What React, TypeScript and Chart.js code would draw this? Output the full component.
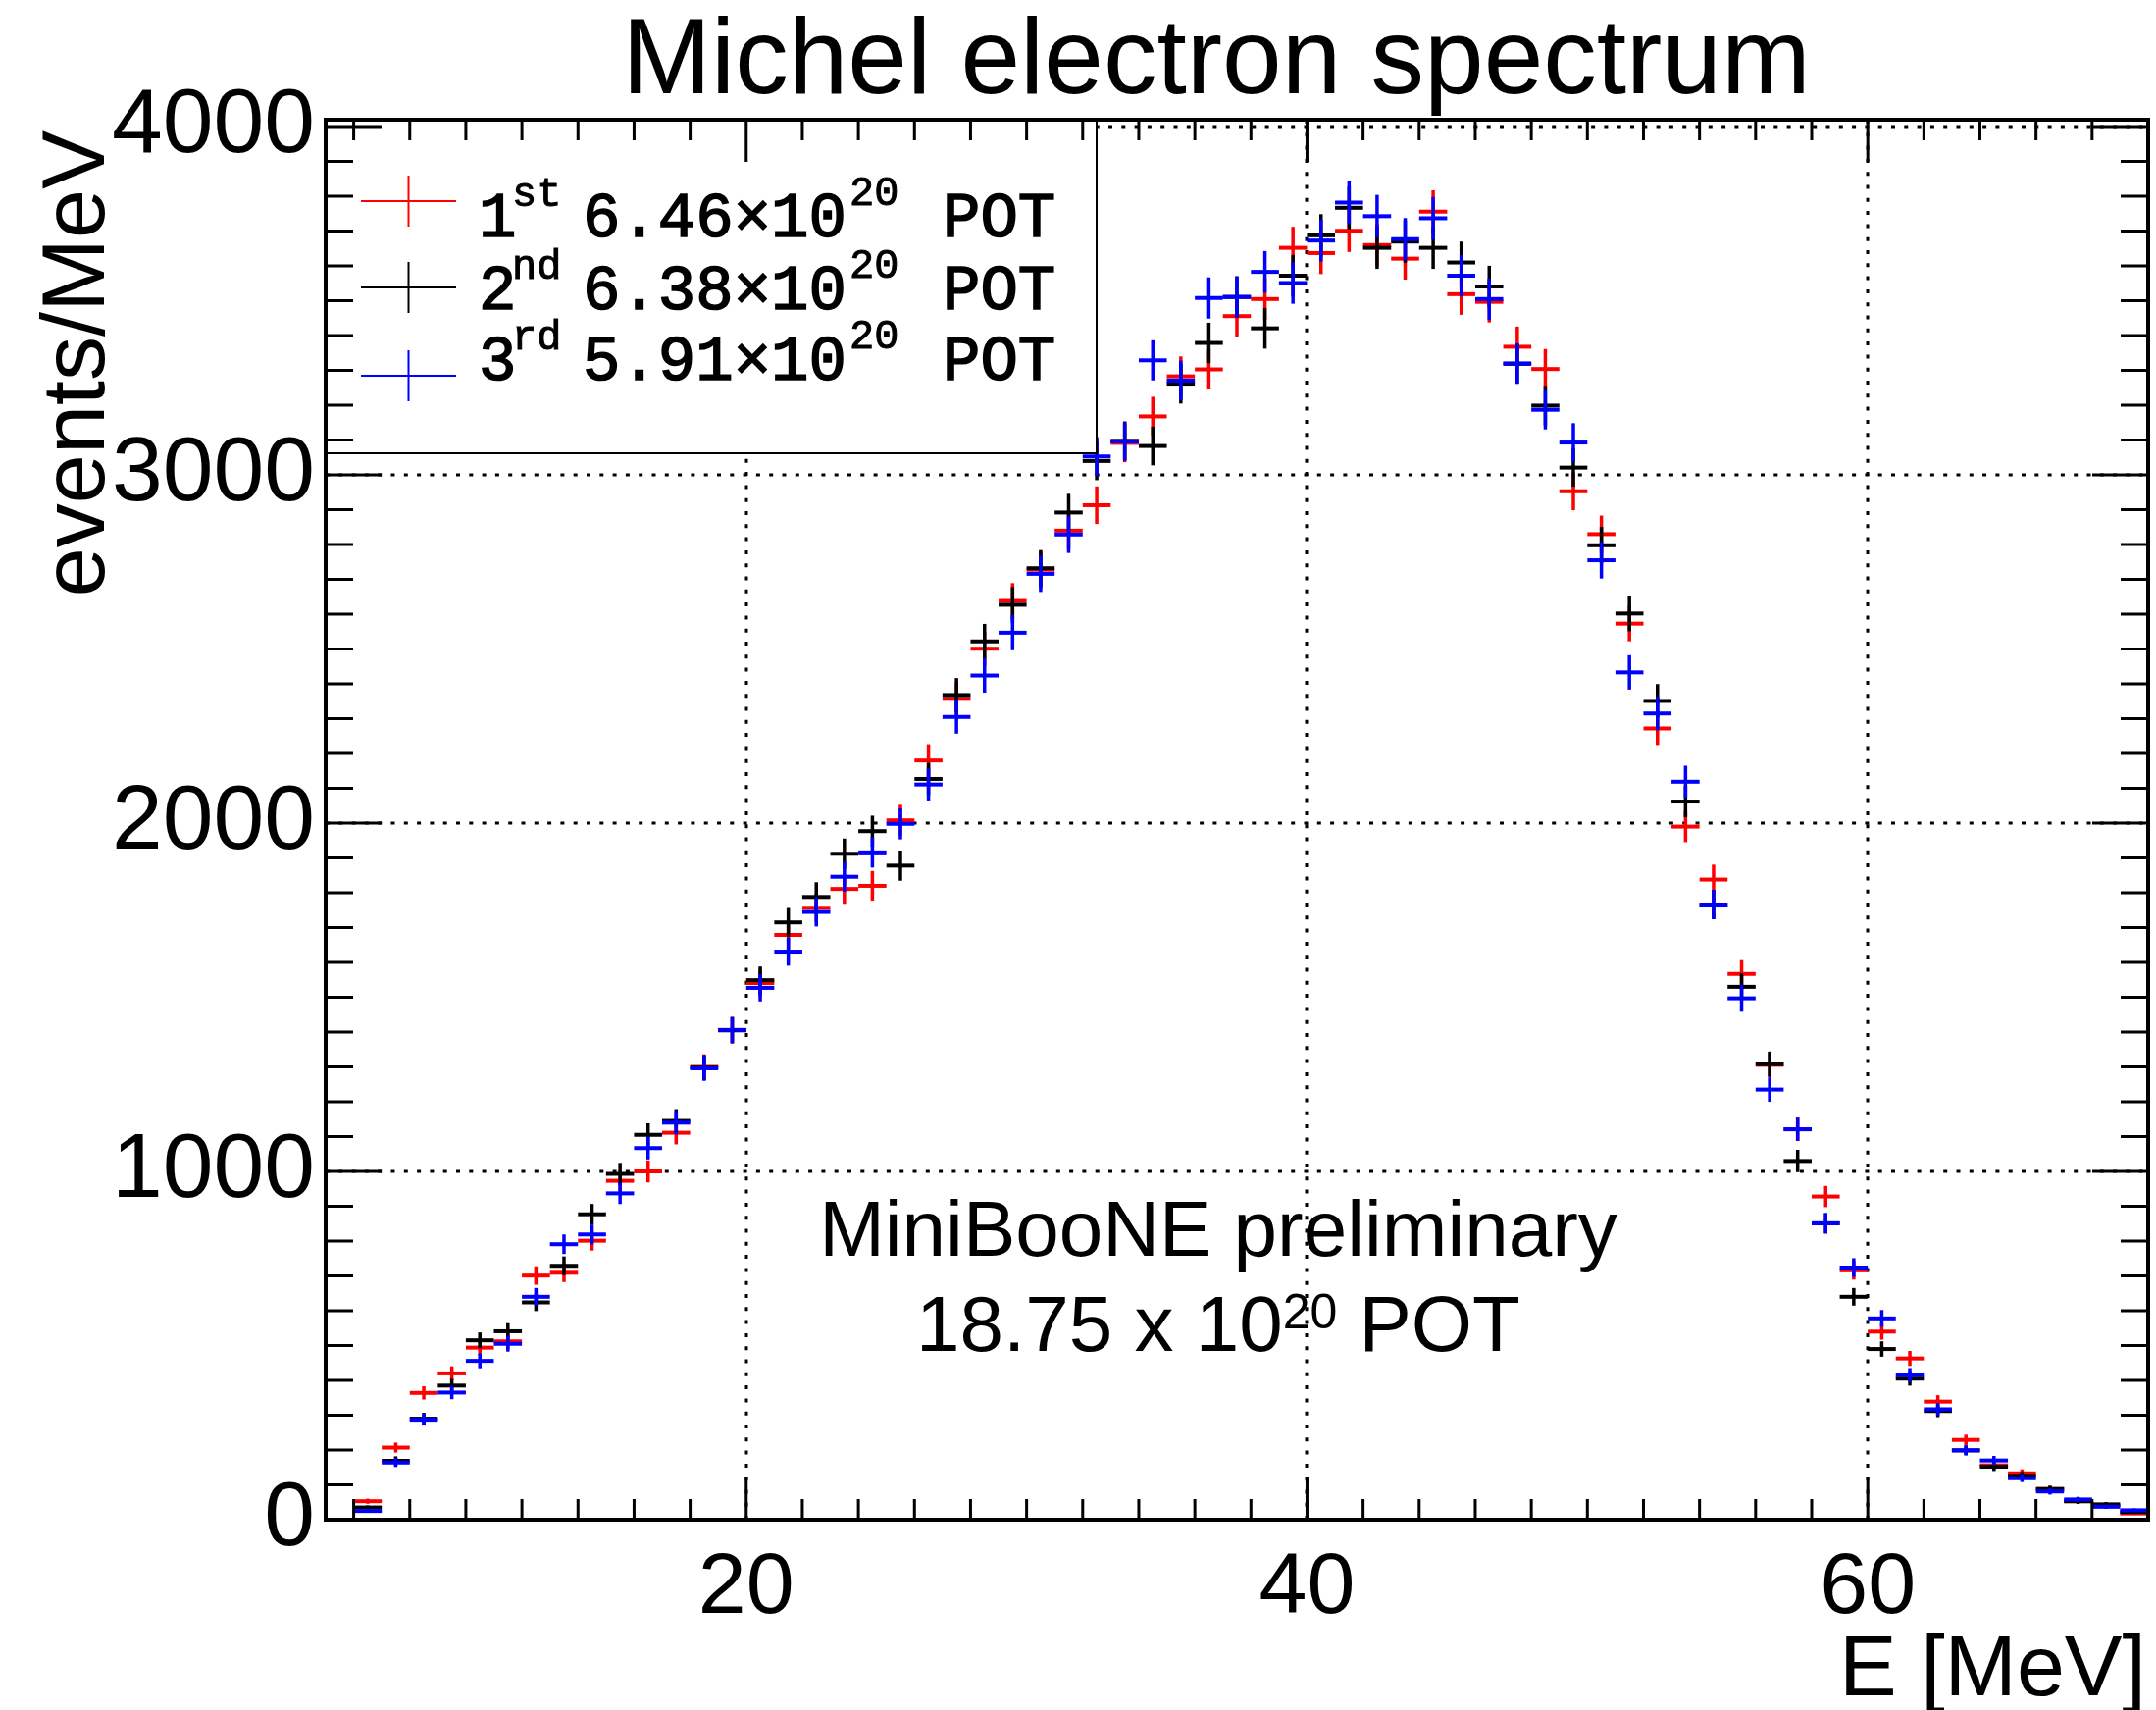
import React, { useEffect, useRef } from "react";
import { Chart, registerables } from "chart.js";

Chart.register(...registerables);

// ---- data (events/MeV, 1 MeV bins from 5 to 70 MeV) ----
const BIN_CENTERS = [
  5.5, 6.5, 7.5, 8.5, 9.5, 10.5, 11.5, 12.5, 13.5, 14.5, 15.5, 16.5, 17.5, 18.5, 19.5, 20.5,
  21.5, 22.5, 23.5, 24.5, 25.5, 26.5, 27.5, 28.5, 29.5, 30.5, 31.5, 32.5, 33.5, 34.5, 35.5, 36.5,
  37.5, 38.5, 39.5, 40.5, 41.5, 42.5, 43.5, 44.5, 45.5, 46.5, 47.5, 48.5, 49.5, 50.5, 51.5, 52.5,
  53.5, 54.5, 55.5, 56.5, 57.5, 58.5, 59.5, 60.5, 61.5, 62.5, 63.5, 64.5, 65.5, 66.5, 67.5, 68.5, 69.5,
];
const BIN_WIDTH = 1;

const RUN1_RED = [
  0, 53, 207, 364, 420, 494, 512, 701, 709, 801, 973, 1000, 1111, 1300, 1406, 1541,
  1679, 1757, 1811, 1820, 2008, 2180, 2357, 2501, 2638, 2728, 2840, 2913, 3092, 3168, 3283, 3303,
  3456, 3505, 3652, 3637, 3701, 3660, 3621, 3756, 3519, 3497, 3368, 3304, 2953, 2830, 2573, 2272,
  1990, 1838, 1567, 1306, 1121, 928, 716, 540, 463, 339, 229, 156, 133, 88, 53, 40, 18,
];
const RUN2_BLACK = [
  0, 35, 169, 290, 385, 515, 541, 624, 729, 877, 993, 1105, 1145, 1298, 1405, 1549,
  1715, 1788, 1912, 1977, 1878, 2127, 2368, 2522, 2627, 2732, 2892, 3040, 3098, 3083, 3262, 3379,
  3511, 3421, 3572, 3688, 3767, 3652, 3670, 3652, 3610, 3541, 3319, 3199, 3021, 2798, 2602, 2351,
  2062, 1766, 1530, 1308, 1030, 851, 640, 490, 405, 312, 199, 152, 126, 88, 53, 44, 22,
];
const RUN3_BLUE = [
  0, 25, 164, 287, 365, 456, 505, 640, 791, 819, 937, 1067, 1140, 1296, 1406, 1527,
  1631, 1745, 1846, 1916, 1998, 2111, 2305, 2424, 2547, 2716, 2829, 3053, 3096, 3329, 3271, 3508,
  3511, 3583, 3551, 3673, 3782, 3743, 3677, 3737, 3572, 3505, 3320, 3187, 3093, 2755, 2433, 2315,
  2119, 1766, 1497, 1235, 1121, 851, 724, 578, 415, 317, 199, 170, 119, 81, 58, 37, 27,
];

const SERIES_COLORS = ["#ff0000", "#000000", "#0000ff"];
const LEGEND_ORDINALS = ["1", "2", "3"];
const LEGEND_SUFFIXES = ["st", "nd", "rd"];
const LEGEND_POT = ["6.46", "6.38", "5.91"];

const X_TICKS = [20, 40, 60];
const Y_TICKS = [0, 1000, 2000, 3000, 4000];
const X_MIN = 5;
const X_MAX = 70;
const Y_MIN = 0;
const Y_MAX = 4020;

const TITLE = "Michel electron spectrum";
const Y_TITLE = "events/MeV";
const X_TITLE = "E [MeV]";
const NOTE_LINE1 = "MiniBooNE preliminary";

const SANS = '"Liberation Sans", Arial, Helvetica, sans-serif';
const MONO = '"Liberation Mono", "DejaVu Sans Mono", monospace';

// Poisson statistical uncertainty of each bin (1 MeV bins)
const poisson = (arr: number[]) => arr.map((v) => Math.sqrt(v));

const rootPlugin = {
  id: "rootStyle",
  beforeDatasetsDraw(chart: any) {
    const { ctx, chartArea: a, scales } = chart;
    const xs = scales.x;
    const ys = scales.y;
    ctx.save();
    ctx.strokeStyle = "#000";
    ctx.lineWidth = 3;
    ctx.setLineDash([4, 9.3]);
    for (const v of X_TICKS) {
      const px = Math.round(xs.getPixelForValue(v));
      ctx.beginPath();
      ctx.moveTo(px, a.top);
      ctx.lineTo(px, a.bottom);
      ctx.stroke();
    }
    for (const v of Y_TICKS) {
      if (v === 0) continue;
      const py = Math.round(ys.getPixelForValue(v));
      ctx.beginPath();
      ctx.moveTo(a.left, py);
      ctx.lineTo(a.right, py);
      ctx.stroke();
    }
    ctx.restore();
  },
  afterDatasetsDraw(chart: any) {
    const { ctx, chartArea: a, scales } = chart;
    const xs = scales.x;
    const ys = scales.y;
    ctx.save();
    ctx.beginPath();
    ctx.rect(a.left, a.top, a.right - a.left, a.bottom - a.top);
    ctx.clip();
    chart.data.datasets.forEach((ds: any, di: number) => {
      const meta = chart.getDatasetMeta(di);
      ctx.strokeStyle = ds.borderColor;
      meta.data.forEach((el: any, i: number) => {
        const raw = ds.data[i];
        const xl = xs.getPixelForValue(raw.x - BIN_WIDTH / 2);
        const xr = xs.getPixelForValue(raw.x + BIN_WIDTH / 2);
        ctx.lineWidth = 4;
        ctx.beginPath();
        ctx.moveTo(xl, el.y);
        ctx.lineTo(xr, el.y);
        ctx.stroke();
        const err = ds.errors[i];
        if (err > 0) {
          ctx.lineWidth = 3.5;
          ctx.beginPath();
          ctx.moveTo(el.x, ys.getPixelForValue(raw.y + err));
          ctx.lineTo(el.x, ys.getPixelForValue(raw.y - err));
          ctx.stroke();
        }
      });
    });
    ctx.restore();

    // legend box
    ctx.save();
    const lx0 = a.left, ly0 = a.top + 1, lx1 = 1118, ly1 = 462;
    ctx.fillStyle = "#fff";
    ctx.fillRect(lx0, ly0, lx1 - lx0, ly1 - ly0);
    ctx.strokeStyle = "#000";
    ctx.lineWidth = 2;
    ctx.strokeRect(lx0, ly0, lx1 - lx0, ly1 - ly0);
    const markerY = [205, 293, 383];
    const textBase = [241, 315, 387];
    const txt = (s: string, x: number, y: number) => {
      ctx.fillText(s, x, y);
      ctx.strokeText(s, x, y);
    };
    for (let k = 0; k < 3; k++) {
      ctx.strokeStyle = SERIES_COLORS[k];
      ctx.lineWidth = 2;
      ctx.beginPath();
      ctx.moveTo(368, markerY[k]);
      ctx.lineTo(465, markerY[k]);
      ctx.stroke();
      ctx.beginPath();
      ctx.moveTo(416.5, markerY[k] - 26);
      ctx.lineTo(416.5, markerY[k] + 26);
      ctx.stroke();
      ctx.fillStyle = "#000";
      ctx.strokeStyle = "#000";
      ctx.lineWidth = 1.6;
      ctx.textAlign = "left";
      ctx.textBaseline = "alphabetic";
      ctx.font = `64px ${MONO}`;
      txt(LEGEND_ORDINALS[k], 488, textBase[k]);
      txt(`${LEGEND_POT[k]}\u00d710`, 594, textBase[k]);
      txt("POT", 961, textBase[k]);
      ctx.lineWidth = 1;
      ctx.font = `42px ${MONO}`;
      txt(LEGEND_SUFFIXES[k], 522, textBase[k] - 31);
      txt("20", 866, textBase[k] - 32);
    }
    ctx.restore();
  },
  afterDraw(chart: any) {
    const { ctx, chartArea: a, scales } = chart;
    const xs = scales.x;
    const ys = scales.y;
    ctx.save();
    // frame
    ctx.strokeStyle = "#000";
    ctx.lineWidth = 4;
    ctx.strokeRect(a.left, a.top, a.right - a.left, a.bottom - a.top);
    // ticks (inside the frame, on all four sides)
    ctx.lineWidth = 3;
    for (let v = 6; v <= X_MAX; v += 2) {
      const px = xs.getPixelForValue(v);
      const len = X_TICKS.includes(v) ? 43 : 21;
      ctx.beginPath();
      ctx.moveTo(px, a.bottom);
      ctx.lineTo(px, a.bottom - len);
      ctx.moveTo(px, a.top);
      ctx.lineTo(px, a.top + len);
      ctx.stroke();
    }
    for (let v = 100; v <= 4000; v += 100) {
      const py = ys.getPixelForValue(v);
      const len = Y_TICKS.includes(v) ? 57 : 28;
      ctx.beginPath();
      ctx.moveTo(a.left, py);
      ctx.lineTo(a.left + len, py);
      ctx.moveTo(a.right, py);
      ctx.lineTo(a.right - len, py);
      ctx.stroke();
    }

    ctx.fillStyle = "#000";
    // title
    ctx.font = `109px ${SANS}`;
    ctx.textAlign = "center";
    ctx.textBaseline = "alphabetic";
    ctx.fillText(TITLE, 1240, 95);

    // x title
    ctx.font = `88px ${SANS}`;
    ctx.textAlign = "right";
    ctx.fillText(X_TITLE, 2188, 1728);

    // y title
    ctx.save();
    ctx.translate(106, 133);
    ctx.rotate(-Math.PI / 2);
    ctx.textAlign = "right";
    ctx.font = `90px ${SANS}`;
    ctx.fillText(Y_TITLE, 0, 0);
    ctx.restore();

    // annotation
    ctx.textAlign = "center";
    ctx.font = `80px ${SANS}`;
    ctx.fillText(NOTE_LINE1, 1242, 1280);
    ctx.textAlign = "left";
    const p1 = "18.75 x 10";
    const p2 = "20";
    const p3 = " POT";
    ctx.font = `80px ${SANS}`;
    const w1 = ctx.measureText(p1).width;
    const w3 = ctx.measureText(p3).width;
    ctx.font = `50px ${SANS}`;
    const w2 = ctx.measureText(p2).width;
    let sx = 1242 - (w1 + w2 + w3) / 2;
    ctx.font = `80px ${SANS}`;
    ctx.fillText(p1, sx, 1377);
    sx += w1;
    ctx.font = `50px ${SANS}`;
    ctx.fillText(p2, sx, 1354);
    sx += w2;
    ctx.font = `80px ${SANS}`;
    ctx.fillText(p3, sx, 1377);
    ctx.restore();
  },
};

export default function App() {
  const canvasRef = useRef<HTMLCanvasElement | null>(null);

  useEffect(() => {
    const canvas = canvasRef.current;
    if (!canvas) return;
    const series = [RUN1_RED, RUN2_BLACK, RUN3_BLUE];
    const names = ["1st", "2nd", "3rd"];
    const chart = new Chart(canvas, {
      type: "scatter",
      data: {
        datasets: series.map((vals, k) => ({
          label: names[k],
          data: BIN_CENTERS.map((x, i) => ({ x, y: vals[i] })),
          errors: poisson(vals),
          borderColor: SERIES_COLORS[k],
          backgroundColor: SERIES_COLORS[k],
          pointRadius: 0,
          pointHoverRadius: 0,
          showLine: false,
        })) as any,
      },
      options: {
        animation: false,
        responsive: false,
        maintainAspectRatio: false,
        events: [],
        layout: { padding: { top: 122, right: 8, left: 0, bottom: 0 } },
        plugins: {
          legend: { display: false },
          title: { display: false },
          tooltip: { enabled: false },
        },
        scales: {
          x: {
            type: "linear",
            min: X_MIN,
            max: X_MAX,
            grid: { display: false, drawTicks: false },
            border: { display: false },
            afterBuildTicks: (s: any) => {
              s.ticks = X_TICKS.map((value) => ({ value }));
            },
            afterFit: (s: any) => {
              s.height = 194;
            },
            ticks: {
              autoSkip: false,
              maxRotation: 0,
              padding: 18,
              color: "#000",
              font: { family: SANS, size: 88 },
              callback: (v: any) => String(v),
            },
          },
          y: {
            type: "linear",
            min: Y_MIN,
            max: Y_MAX,
            grid: { display: false, drawTicks: false },
            border: { display: false },
            afterBuildTicks: (s: any) => {
              s.ticks = Y_TICKS.map((value) => ({ value }));
            },
            afterFit: (s: any) => {
              s.width = 332;
            },
            ticks: {
              autoSkip: false,
              padding: 11,
              color: "#000",
              font: { family: SANS, size: 93 },
              callback: (v: any) => String(v),
            },
          },
        },
      } as any,
      plugins: [rootPlugin],
    });
    return () => chart.destroy();
  }, []);

  return (
    <div style={{ position: "absolute", left: 0, top: 0, width: 2198, height: 1743, background: "#fff" }}>
      <canvas ref={canvasRef} width={2198} height={1743} style={{ display: "block" }} />
    </div>
  );
}
